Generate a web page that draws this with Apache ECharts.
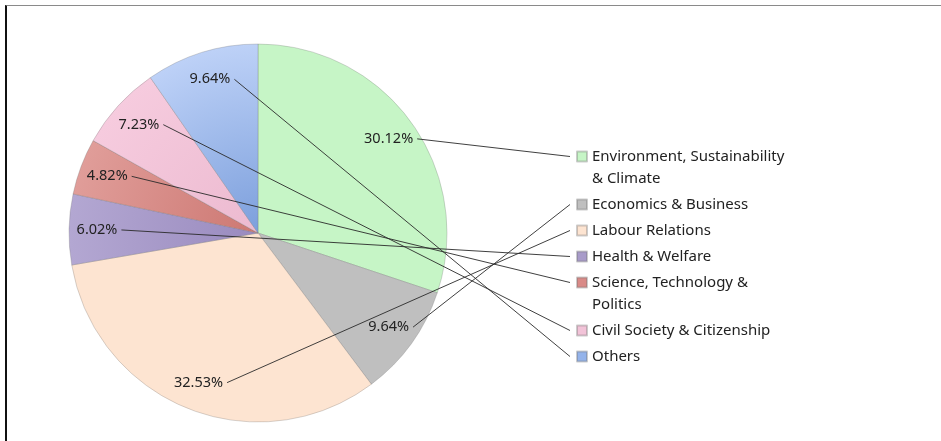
<!DOCTYPE html>
<html>
<head>
<meta charset="utf-8">
<script src="https://cdn.jsdelivr.net/npm/echarts@6/dist/echarts.min.js"></script>
<style>
  html, body { margin: 0; padding: 0; background: #fff; }
  #chart { position: absolute; left: 0; top: 0; width: 941px; height: 441px; }
  #frame { position: absolute; left: 5px; top: 5px; right: 0; bottom: 0;
           border-top: 1px solid #8a8a8a; border-left: 2px solid #111; pointer-events: none; }
</style>
</head>
<body>
<div id="chart"></div>
<div id="frame"></div>
<script>
// ---- data ----
var categories = [
  'Environment, Sustainability\n& Climate',
  'Economics & Business',
  'Labour Relations',
  'Health & Welfare',
  'Science, Technology &\nPolitics',
  'Civil Society & Citizenship',
  'Others'
];
var counts = [25, 8, 27, 5, 4, 6, 8];
var colorsOuter = ['#c6f5c6', '#bfbfbf', '#fde4d1', '#b3a7d2', '#e09d99', '#f6cbde', '#bdd1f7'];
var colorsInner = ['#c6f5c6', '#bfbfbf', '#fde4d1', '#9a8bbf', '#cd7873', '#ecbad0', '#7c9fdc'];
var colorsIcon  = ['#c6f5c6', '#bfbfbf', '#fde4d1', '#a89bc9', '#d98a87', '#f2c3d8', '#94b3ea'];

// ---- layout constants ----
var CX = 258, CY = 233, R = 189;
var LABEL_RATIO = 0.852;
var LEGEND_LEFT = 576, FIRST_ICON_Y = 156.5, ROW_STEP = 26, ICON = 10, LH = 22;
var LEGEND_FONT = 15, LABEL_FONT = 14.5;
var FONT_FAMILY = 'Noto Sans';

var total = counts.reduce(function (a, b) { return a + b; }, 0);

// legend icon centres
var iconY = [];
(function () {
  var y = FIRST_ICON_Y;
  categories.forEach(function (c) {
    iconY.push(y);
    y += ROW_STEP + (c.split('\n').length - 1) * LH;
  });
})();

function midAngle(i) {
  var cum = 0;
  for (var k = 0; k < i; k++) cum += counts[k];
  return (cum + counts[i] / 2) / total * Math.PI * 2;
}

var chart = echarts.init(document.getElementById('chart'), null, { renderer: 'canvas' });

var seriesData = categories.map(function (name, i) {
  var col = colorsOuter[i] === colorsInner[i] ? colorsOuter[i] : {
    type: 'radial', x: CX, y: CY, r: R, global: true,
    colorStops: [{ offset: 0, color: colorsInner[i] }, { offset: 1, color: colorsOuter[i] }]
  };
  return { name: name, value: counts[i], itemStyle: { color: col } };
});
var labelData = categories.map(function (name, i) {
  return { name: name, value: counts[i] };
});

var legends = categories.map(function (c, i) {
  var n = c.split('\n').length;
  var boxH = (2 * n - 1) * LH;
  var item = { name: c, itemStyle: { color: colorsIcon[i] } };
  if (n > 1) item.textStyle = { padding: [(n - 1) * LH, 0, 0, 0] };
  return {
    orient: 'vertical',
    left: LEGEND_LEFT,
    top: iconY[i] - boxH / 2,
    padding: 0,
    itemWidth: ICON,
    itemHeight: ICON,
    icon: 'rect',
    selectedMode: false,
    formatter: function (name) {
      return name.split('\n').map(function (s) { return '{t|' + s + '}'; }).join('\n');
    },
    textStyle: {
      fontFamily: FONT_FAMILY, fontSize: LEGEND_FONT, color: '#222', lineHeight: LH,
      rich: { t: { fontFamily: FONT_FAMILY, fontSize: LEGEND_FONT, color: '#222', lineHeight: LH } }
    },
    data: [item]
  };
});

chart.setOption({
  animation: false,
  backgroundColor: '#fff',
  textStyle: { fontFamily: FONT_FAMILY },
  legend: legends,
  series: [{
    type: 'pie',
    center: [CX, CY],
    radius: R,
    startAngle: 90,
    clockwise: true,
    z: 2,
    itemStyle: { borderColor: 'rgba(110,110,110,0.35)', borderWidth: 0.8 },
    label: { show: false },
    labelLine: { show: false },
    emphasis: { disabled: true },
    data: seriesData
  }, {
    type: 'pie',
    center: [CX, CY],
    radius: R,
    startAngle: 90,
    clockwise: true,
    z: 5,
    silent: true,
    avoidLabelOverlap: false,
    percentPrecision: 2,
    itemStyle: { color: 'rgba(0,0,0,0)', borderWidth: 0 },
    label: {
      show: true,
      position: 'outside',
      formatter: '{d}%',
      fontFamily: FONT_FAMILY,
      fontSize: LABEL_FONT,
      color: '#222',
      overflow: 'none'
    },
    labelLine: {
      show: true,
      lineStyle: { color: '#2a2a2a', width: 0.9 }
    },
    labelLayout: function (params) {
      var i = params.dataIndex;
      var a = midAngle(i);
      var x = CX + R * LABEL_RATIO * Math.sin(a);
      var y = CY - R * LABEL_RATIO * Math.cos(a);
      var w = params.labelRect.width;
      return {
        x: x, y: y, align: 'center', verticalAlign: 'middle',
        labelLinePoints: [[x + w / 2 + 4, y], [LEGEND_LEFT - 6, iconY[i]]]
      };
    },
    emphasis: { disabled: true },
    data: labelData
  }]
});
</script>
</body>
</html>
